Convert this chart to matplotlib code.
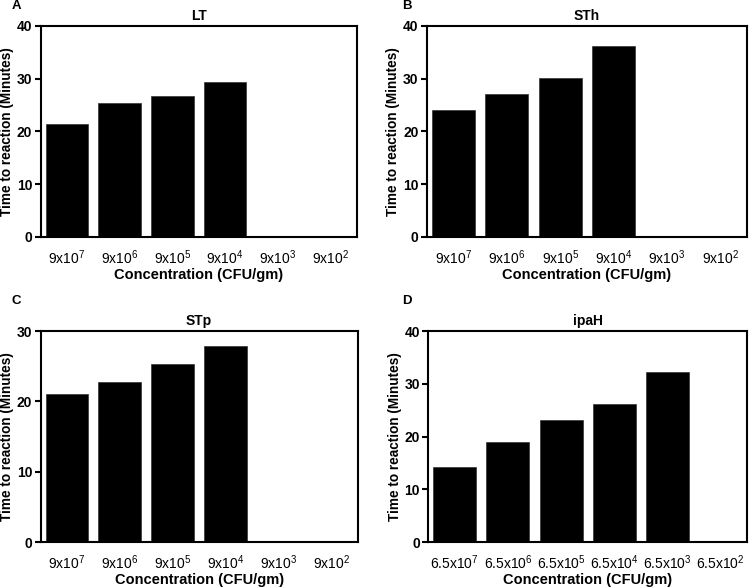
import matplotlib
matplotlib.use("Agg")
import matplotlib.pyplot as plt

plt.rcParams['font.family'] = ['Liberation Sans', 'DejaVu Sans']
plt.rcParams['mathtext.fontset'] = 'custom'
plt.rcParams['mathtext.rm'] = 'Liberation Sans'
plt.rcParams['mathtext.default'] = 'regular'

conc_9 = ["9x10$^{7}$", "9x10$^{6}$", "9x10$^{5}$", "9x10$^{4}$", "9x10$^{3}$", "9x10$^{2}$"]
conc_65 = ["6.5x10$^{7}$", "6.5x10$^{6}$", "6.5x10$^{5}$", "6.5x10$^{4}$", "6.5x10$^{3}$", "6.5x10$^{2}$"]

lt = [21.5, 25.4, 26.7, 29.4, 0, 0]
sth = [24.0, 27.0, 30.2, 36.1, 0, 0]
stp = [21.0, 22.8, 25.35, 27.9, 0, 0]
ipah = [14.3, 18.9, 23.05, 26.2, 32.3, 0]

# letter, title, values, labels, ymax, axes rect, letter position
panels = [
    ("A", "LT", lt, conc_9, 40, [0.054, 0.597, 0.422, 0.359], (0.016, 0.989)),
    ("B", "STh", sth, conc_9, 40, [0.569, 0.597, 0.427, 0.359], (0.536, 0.990)),
    ("C", "STp", stp, conc_9, 30, [0.054, 0.078, 0.423, 0.359], (0.016, 0.488)),
    ("D", "ipaH", ipah, conc_65, 40, [0.571, 0.078, 0.425, 0.359], (0.536, 0.488)),
]

fig = plt.figure(figsize=(7.5, 5.88), dpi=100)

for letter, name, vals, labels, ymax, pos, lpos in panels:
    ax = fig.add_axes(pos)
    x = range(len(vals))
    ax.bar(x, vals, width=0.81, color="black", edgecolor="#333333", linewidth=0.5)
    ax.set_xlim(-0.5, len(vals) - 0.5)
    ax.set_ylim(0, ymax)
    ax.set_yticks(range(0, ymax + 1, 10))
    ax.set_xticks(list(x))
    ax.set_xticklabels(labels, fontsize=10)
    ax.tick_params(axis='x', length=0, pad=8)
    ax.tick_params(axis='y', length=4, width=1.5, labelsize=10, pad=2)
    for lab in ax.get_yticklabels():
        lab.set_fontweight('bold')
    for sp in ax.spines.values():
        sp.set_linewidth(1.5)
    ax.set_title(name, fontsize=10, fontweight='bold', pad=4)
    ax.set_xlabel("Concentration (CFU/gm)", fontsize=10.5, fontweight='bold', labelpad=1)
    ax.set_ylabel("Time to reaction (Minutes)", fontsize=9.8, fontweight='bold', labelpad=2)
    fig.text(lpos[0], lpos[1], letter, fontsize=9.5,
             fontweight='bold', ha='left', va='center')

fig.savefig("out.png", dpi=100)
